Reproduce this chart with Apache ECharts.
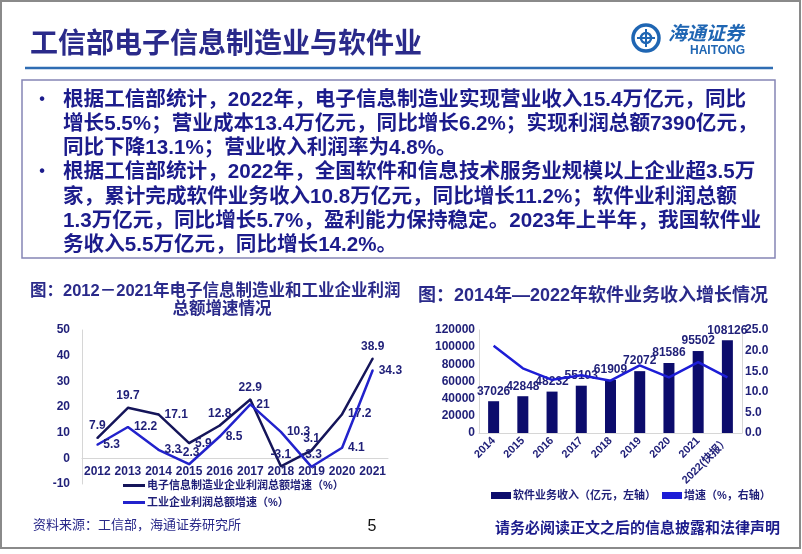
<!DOCTYPE html>
<html><head><meta charset="utf-8">
<script src="https://cdn.jsdelivr.net/npm/echarts@6/dist/echarts.min.js"></script>
<style>html,body{margin:0;padding:0;background:#fff}#c{width:802px;height:554px}</style>
</head><body><div id="c"></div>
<script>
// ---- data ----
const yearsA = ['2012','2013','2014','2015','2016','2017','2018','2019','2020','2021'];
const elecProfit = [7.9, 19.7, 17.1, 5.9, 12.8, 22.9, -3.1, 3.1, 17.2, 38.9];
const indProfit = [5.3, 12.2, 3.3, -2.3, 8.5, 21, 10.3, -3.3, 4.1, 34.3];
const yearsB = ['2014','2015','2016','2017','2018','2019','2020','2021','2022(快报）'];
const softRevenue = [37026, 42848, 48232, 55103, 61909, 72072, 81586, 95502, 108126];
const softGrowth = [21.2, 15.7, 12.9, 14.0, 12.7, 16.4, 13.5, 17.2, 13.5];
const nameElec = '电子信息制造业企业利润总额增速（%）';
const nameInd = '工业企业利润总额增速（%）';
const nameRev = '软件业务收入（亿元，左轴）';
const nameGrowth = '增速（%，右轴）';
const bodyLines = [
  ['•', '根据工信部统计，2022年，电子信息制造业实现营业收入15.4万亿元，同比'],
  ['', '增长5.5%；营业成本13.4万亿元，同比增长6.2%；实现利润总额7390亿元，'],
  ['', '同比下降13.1%；营业收入利润率为4.8%。'],
  ['•', '根据工信部统计，2022年，全国软件和信息技术服务业规模以上企业超3.5万'],
  ['', '家，累计完成软件业务收入10.8万亿元，同比增长11.2%；软件业利润总额'],
  ['', '1.3万亿元，同比增长5.7%，盈利能力保持稳定。2023年上半年，我国软件业'],
  ['', '务收入5.5万亿元，同比增长14.2%。']
];

// ---- styles ----
const FF = '"Liberation Sans", Arial, "Noto Sans CJK SC", sans-serif';
const NAVY = '#1f1f78';
const elecLbl = [['top',[0,0]],['top',[-2,2]],['right',[0,0]],['right',[0,0]],['top',[-10,2]],['top',[0,2]],['top',[-7,-3]],['top',[9,-6]],['right',[16,5]],['top',[-20,-3]]];
const indLbl = [['right',[0,0]],['right',[0,0]],['right',[-6,-3]],['top',[5,0]],['right',[4,0]],['right',[3,0]],['right',[5,1]],['top',[2,2]],['right',[1,0]],['right',[-4,1]]];
const lblStyle = {fontSize:12, fontWeight:'bold', color:NAVY, fontFamily:FF};

function mk(vals, pos){
  return vals.map((v,i)=>({value:v, label:{position:pos[i][0], offset:pos[i][1]}}));
}

const graphics = [
  {type:'rect', shape:{x:1,y:1,width:799,height:547}, style:{fill:'none', stroke:'#8a8a8a', lineWidth:2}, silent:true},
  {type:'text', x:30, y:42, style:{text:'工信部电子信息制造业与软件业', fontSize:28, fontWeight:'bold', fontFamily:'"Noto Sans CJK SC", sans-serif', fill:'#2a2a8a', verticalAlign:'middle'}},
  {type:'line', shape:{x1:25,y1:68,x2:773,y2:68}, style:{stroke:'#2f6db3', lineWidth:2.5}},
  {type:'rect', shape:{x:22,y:80,width:753,height:178}, style:{fill:'none', stroke:'#8585b5', lineWidth:1.5}},
  // logo
  {type:'circle', shape:{cx:646,cy:38,r:13}, style:{fill:'none', stroke:'#1f66b3', lineWidth:3.5}},
  {type:'circle', shape:{cx:646,cy:38,r:5}, style:{fill:'none', stroke:'#1f66b3', lineWidth:2.5}},
  {type:'line', shape:{x1:637,y1:38,x2:655,y2:38}, style:{stroke:'#1f66b3', lineWidth:2}},
  {type:'line', shape:{x1:646,y1:29,x2:646,y2:47}, style:{stroke:'#1f66b3', lineWidth:2}},
  {type:'text', x:668, y:33, style:{text:'海通证券', fontSize:19, fontStyle:'italic', fontWeight:'bold', fontFamily:'"Noto Sans CJK SC", sans-serif', fill:'#1f66b3', verticalAlign:'middle'}},
  {type:'text', x:690, y:51, style:{text:'HAITONG', fontSize:12, fontWeight:'bold', fontFamily:FF, fill:'#1f66b3', verticalAlign:'middle'}},
  // chart titles
  {type:'text', x:30, y:291, style:{text:'图：2012－2021年电子信息制造业和工业企业利润', fontSize:16.5, fontWeight:'bold', fontFamily:FF, fill:'#2a2a8a', verticalAlign:'middle'}},
  {type:'text', x:222, y:309, style:{text:'总额增速情况', fontSize:16.5, fontWeight:'bold', fontFamily:FF, fill:'#2a2a8a', verticalAlign:'middle', align:'center'}},
  {type:'text', x:418, y:296, style:{text:'图：2014年—2022年软件业务收入增长情况', fontSize:18, fontWeight:'bold', fontFamily:FF, fill:'#2a2a8a', verticalAlign:'middle'}},
  // footer
  {type:'text', x:33, y:524, style:{text:'资料来源：工信部，海通证券研究所', fontSize:13, fontFamily:'"Noto Sans CJK SC", sans-serif', fill:'#2a2a8a', verticalAlign:'middle'}},
  {type:'text', x:372, y:527, style:{text:'5', fontSize:16, fontFamily:FF, fill:'#111', verticalAlign:'middle', align:'center'}},
  {type:'text', x:495, y:527, style:{text:'请务必阅读正文之后的信息披露和法律声明', fontSize:15, fontWeight:'bold', fontFamily:'"Noto Sans CJK SC", sans-serif', fill:'#1c1c8c', verticalAlign:'middle'}}
];
const lineY = [100, 124, 148, 172, 197, 221, 245];
bodyLines.forEach((ln,i)=>{
  if (ln[0]) graphics.push({type:'text', x:42, y:lineY[i], style:{text:ln[0], fontSize:16, fontWeight:'bold', fontFamily:FF, fill:'#1c1c8c', verticalAlign:'middle', align:'center'}});
  graphics.push({type:'text', x:63, y:lineY[i], style:{text:ln[1], fontSize:20.6, fontWeight:'bold', fontFamily:FF, fill:'#1c1c8c', verticalAlign:'middle'}});
});

const axisLbl = {fontSize:12, fontWeight:'bold', color:NAVY, fontFamily:FF};
const grayLine = {show:true, lineStyle:{color:'#d6d6d6', width:1}};
const gridAH = 154, yMinA = -10, yMaxA = 50;

const option = {
  animation:false,
  graphic: graphics,
  grid:[
    {left:82, top:330, width:306, height:gridAH},
    {left:479, top:330, width:263, height:103}
  ],
  legend:[
    {data:[nameElec, nameInd], orient:'vertical', left:118, top:475, itemGap:6, itemWidth:22, itemHeight:3, icon:'rect',
     textStyle:{fontSize:11, fontWeight:'bold', color:NAVY, fontFamily:FF, padding:[0,0,0,-3]}},
    {data:[nameRev, nameGrowth], left:486, top:485, itemGap:6, itemWidth:20, itemHeight:7, icon:'rect',
     textStyle:{fontSize:11, fontWeight:'bold', color:NAVY, fontFamily:FF, padding:[0,0,0,-3]}}
  ],
  xAxis:[
    {type:'category', gridIndex:0, data:yearsA, position:'bottom', offset:-(gridAH*(0-yMinA)/(yMaxA-yMinA)),
     axisLine:{show:true, onZero:false, lineStyle:{color:'#d6d6d6'}}, axisTick:{show:false}, axisLabel:Object.assign({margin:7, interval:0}, axisLbl)},
    {type:'category', gridIndex:1, data:yearsB, axisLine:grayLine, axisTick:{show:false}, axisLabel:{margin:6, rotate:45, interval:0, fontSize:11, fontWeight:'bold', color:NAVY, fontFamily:FF}}
  ],
  yAxis:[
    {type:'value', gridIndex:0, min:yMinA, max:yMaxA, interval:10, axisLine:grayLine, axisTick:{show:false}, splitLine:{show:false}, axisLabel:Object.assign({margin:12, formatter:v=>String(v)}, axisLbl)},
    {type:'value', gridIndex:1, min:0, max:120000, interval:20000, axisLine:grayLine, axisTick:{show:false}, splitLine:{show:false}, axisLabel:Object.assign({margin:4, formatter:v=>String(v)}, axisLbl)},
    {type:'value', gridIndex:1, position:'right', min:0, max:25, interval:5, axisLine:grayLine, axisTick:{show:false}, splitLine:{show:false}, axisLabel:Object.assign({margin:3, formatter:v=>v.toFixed(1)}, axisLbl)}
  ],
  series:[
    {name:nameElec, type:'line', xAxisIndex:0, yAxisIndex:0, data:mk(elecProfit, elecLbl), symbol:'circle', symbolSize:2, showSymbol:true, lineStyle:{color:'#15155a', width:2.5}, itemStyle:{color:'#15155a'},
     label:Object.assign({show:true, distance:5}, lblStyle), labelLayout:{hideOverlap:false}, z:3},
    {name:nameInd, type:'line', xAxisIndex:0, yAxisIndex:0, data:mk(indProfit, indLbl), symbol:'circle', symbolSize:2, showSymbol:true, lineStyle:{color:'#2222cc', width:2.5}, itemStyle:{color:'#2222cc'},
     label:Object.assign({show:true, distance:5}, lblStyle), labelLayout:{hideOverlap:false}, z:4},
    {name:nameRev, type:'bar', xAxisIndex:1, yAxisIndex:1, data:softRevenue, barWidth:11, itemStyle:{color:'#0c0c6c'},
     label:Object.assign({show:true, position:'top', distance:4}, lblStyle)},
    {name:nameGrowth, type:'line', xAxisIndex:1, yAxisIndex:2, data:softGrowth, symbol:'none', lineStyle:{color:'#1d1dd6', width:2.5}, itemStyle:{color:'#1d1dd6'}, z:5}
  ]
};
const chart = echarts.init(document.getElementById('c'), null, {renderer:'canvas'});
chart.setOption(option);
</script></body></html>
